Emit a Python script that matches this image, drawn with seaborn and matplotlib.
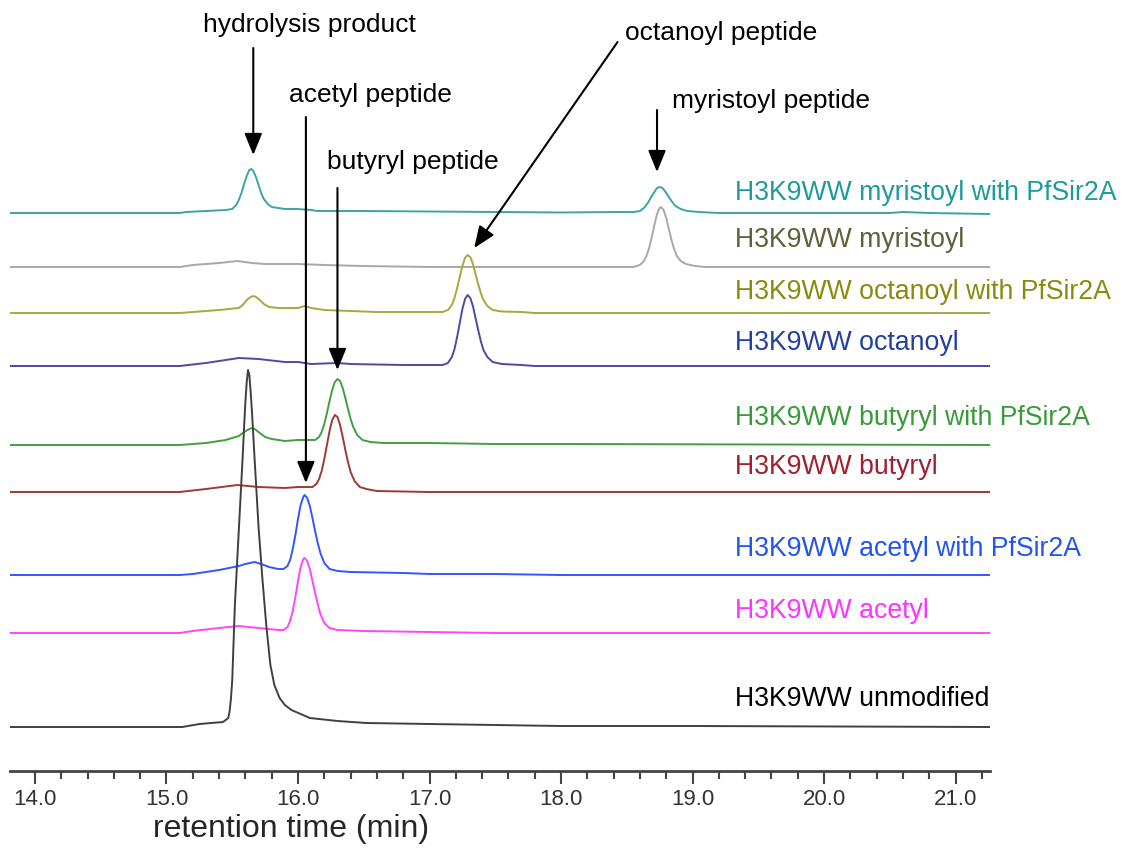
import matplotlib
matplotlib.use("Agg")
import matplotlib.pyplot as plt
import pandas as pd
import seaborn as sns
from matplotlib.ticker import MultipleLocator, FormatStrFormatter

# chromatogram traces: retention time (min) and signal above baseline (a.u.)
names = ["H3K9WW myristoyl with PfSir2A", "H3K9WW myristoyl", "H3K9WW octanoyl with PfSir2A",
         "H3K9WW octanoyl", "H3K9WW butyryl with PfSir2A", "H3K9WW butyryl",
         "H3K9WW acetyl with PfSir2A", "H3K9WW acetyl", "H3K9WW unmodified"]

myr_sir_t = [13.81, 15.10, 15.15, 15.30, 15.45, 15.50, 15.53, 15.55, 15.57, 15.59, 15.61, 15.63, 15.645,
             15.66, 15.68, 15.70, 15.72, 15.74, 15.77, 15.80, 15.85, 15.90, 16.00, 16.10, 16.15, 16.50,
             17.00, 17.50, 18.00, 18.45, 18.55, 18.60, 18.63, 18.66, 18.69, 18.71, 18.73, 18.75, 18.77,
             18.79, 18.81, 18.84, 18.87, 18.91, 18.96, 19.05, 19.20, 20.50, 20.60, 20.80, 21.26]
myr_sir_y = [0, 0, 1, 2, 3, 4, 8, 13, 20, 29, 37, 43, 44,
             42, 36, 28, 20, 14, 9, 6, 5, 4, 4, 3, 2, 2,
             1.5, 1, 0.5, 1, 1, 2, 5, 10, 17, 21, 25, 26, 25,
             22, 18, 12, 7, 4, 2, 1, 0, 0, 1, 0, -1]

myr_t = [13.81, 15.10, 15.20, 15.40, 15.54, 15.65, 15.75, 16.00, 16.20, 16.50, 17.00, 18.55, 18.60,
         18.63, 18.65, 18.67, 18.69, 18.71, 18.73, 18.75, 18.76, 18.78, 18.80, 18.82, 18.84, 18.86,
         18.88, 18.91, 18.95, 19.02, 19.10, 21.26]
myr_y = [0, 0, 2, 4, 6, 4, 3, 3, 2, 1, 0, 0, 2,
         6, 11, 19, 30, 42, 53, 59, 60, 57, 49, 38, 27, 18,
         11, 6, 3, 1, 0, 0]

oct_sir_t = [13.81, 15.10, 15.20, 15.40, 15.55, 15.58, 15.61, 15.64, 15.66, 15.68, 15.71, 15.74, 15.78,
             15.85, 16.00, 16.05, 16.10, 16.20, 16.40, 16.60, 17.00, 17.10, 17.14, 17.17, 17.19, 17.21,
             17.23, 17.25, 17.27, 17.29, 17.31, 17.33, 17.35, 17.37, 17.39, 17.41, 17.44, 17.48, 17.55,
             17.70, 17.80, 21.26]
oct_sir_y = [0, 0, 1, 3, 5, 8, 13, 16, 17, 16, 13, 9, 6,
             5, 5, 7, 5, 3, 2, 1, 1, 1, 3, 8, 15, 25,
             36, 47, 55, 58, 56, 49, 39, 29, 20, 13, 7, 3, 1.5,
             1, 0, 0]

oct_t = [13.81, 15.10, 15.30, 15.55, 15.70, 15.90, 16.00, 16.10, 16.30, 16.40, 16.80, 17.10, 17.14,
         17.17, 17.19, 17.21, 17.23, 17.25, 17.27, 17.29, 17.31, 17.33, 17.35, 17.37, 17.39, 17.41,
         17.44, 17.48, 17.55, 17.70, 17.80, 21.26]
oct_y = [0, 0, 3, 8, 7, 4, 4, 2, 3, 2, 1, 1, 3,
         9, 17, 29, 43, 57, 67, 71, 68, 60, 48, 36, 25, 16,
         9, 4, 2, 1, 0, 0]

but_sir_t = [13.81, 15.10, 15.30, 15.45, 15.50, 15.55, 15.59, 15.63, 15.65, 15.67, 15.71, 15.75, 15.80,
             15.90, 16.00, 16.13, 16.16, 16.18, 16.20, 16.22, 16.24, 16.26, 16.28, 16.30, 16.32, 16.34,
             16.36, 16.38, 16.40, 16.42, 16.45, 16.49, 16.55, 16.65, 17.00, 17.50, 18.00, 19.60, 21.26]
but_sir_y = [0, 0, 2, 5, 7, 9, 13, 16, 17, 16, 12, 8, 6,
             4, 5, 5, 8, 13, 21, 32, 44, 55, 63, 66, 64, 57,
             47, 36, 26, 18, 10, 5, 3, 2, 2, 1, 1, 0.5, 0]

but_t = [13.81, 15.10, 15.30, 15.54, 15.70, 15.90, 16.00, 16.11, 16.14, 16.16, 16.18, 16.20, 16.22,
         16.24, 16.26, 16.28, 16.30, 16.32, 16.34, 16.36, 16.38, 16.40, 16.43, 16.47, 16.52, 16.60,
         17.00, 21.26]
but_y = [0, 0, 3, 7, 5, 4, 5, 5, 8, 13, 21, 33, 47,
         61, 72, 77, 75, 67, 55, 42, 30, 20, 11, 5, 3, 1,
         0, 0]

ace_sir_t = [13.81, 15.10, 15.20, 15.40, 15.55, 15.60, 15.67, 15.72, 15.78, 15.85, 15.89, 15.92, 15.94,
             15.96, 15.98, 16.00, 16.02, 16.04, 16.05, 16.07, 16.09, 16.11, 16.13, 16.15, 16.17, 16.20,
             16.24, 16.30, 16.40, 16.80, 17.00, 17.50, 18.00, 21.26]
ace_sir_y = [0, 0, 1, 5, 9, 11, 13, 11, 8, 6, 6, 9, 15,
             26, 40, 56, 70, 78, 80, 77, 69, 57, 44, 32, 22, 12,
             6, 4, 3, 2, 1, 1, 0, 0]

ace_t = [13.81, 15.10, 15.20, 15.40, 15.55, 15.70, 15.85, 15.89, 15.92, 15.94, 15.96, 15.98, 16.00,
         16.02, 16.04, 16.05, 16.07, 16.09, 16.11, 16.13, 16.15, 16.17, 16.20, 16.24, 16.30, 16.50,
         17.00, 17.50, 21.26]
ace_y = [0, 0, 2, 5, 7, 5, 3, 3, 6, 12, 22, 36, 52,
         66, 74, 75, 72, 64, 52, 40, 29, 19, 10, 5, 3, 2,
         1, 0, 0]

unmod_t = [13.81, 15.12, 15.25, 15.43, 15.47, 15.48, 15.49, 15.50, 15.52, 15.54, 15.56, 15.58, 15.59,
           15.60, 15.61, 15.62, 15.63, 15.64, 15.65, 15.67, 15.70, 15.73, 15.76, 15.79, 15.82, 15.86,
           15.90, 15.95, 16.09, 16.30, 16.52, 17.00, 17.50, 18.00, 19.00, 21.26]
unmod_y = [0, 0, 3, 5, 9, 16, 28, 47, 122, 172, 222, 272, 300,
           325, 345, 357, 352, 335, 315, 268, 200, 147, 100, 62, 42, 29,
           22, 17, 9, 6, 4, 3, 2, 1, 1, 0]

times = [myr_sir_t, myr_t, oct_sir_t, oct_t, but_sir_t, but_t, ace_sir_t, ace_t, unmod_t]
signals = [myr_sir_y, myr_y, oct_sir_y, oct_y, but_sir_y, but_y, ace_sir_y, ace_y, unmod_y]

# vertical stacking of the traces and label placement
offsets = [558, 504, 458, 405, 326, 279, 196, 138, 44]
label_y = [578, 531, 479, 428, 353, 304, 222, 160, 72]
line_colors = ["#3aa5a5", "#a8a8a8", "#a8a840", "#4a4aa8", "#40a040", "#a03838", "#3355ff", "#ff44ff", "#404040"]
text_colors = ["#1f9b9b", "#5f5f3a", "#8a8a10", "#2340a0", "#3a9a3a", "#a02030", "#2255ee", "#ff33ff", "#000000"]

rows = []
for name, t, s, off in zip(names, times, signals, offsets):
    for ti, si in zip(t, s):
        rows.append((name, ti, si + off))
df = pd.DataFrame(rows, columns=["trace", "time", "y"])

sns.set_theme(style="white")
plt.rcParams["font.family"] = ["Liberation Sans", "DejaVu Sans"]

fig = plt.figure(figsize=(11.33, 8.48), dpi=100)
ax = fig.add_axes([10 / 1133, 77 / 848, 980 / 1133, 771 / 848])

sns.lineplot(data=df, x="time", y="y", hue="trace", palette=dict(zip(names, line_colors)),
             estimator=None, sort=False, legend=False, linewidth=1.4, ax=ax)

for name, ly, c in zip(names, label_y, text_colors):
    ax.text(19.32, ly, name, color=c, fontsize=19.2, ha="left", va="center")

# peak annotations: (text, text x, text y, arrow start, arrow tip)
annots = [("hydrolysis product", 16.09, 746, (15.66, 723), (15.66, 616)),
          ("acetyl peptide", 16.55, 676, (16.06, 654), (16.06, 288)),
          ("butyryl peptide", 16.87, 609, (16.30, 583), (16.30, 401)),
          ("octanoyl peptide", 19.22, 738, (18.43, 729), (17.34, 523)),
          ("myristoyl peptide", 19.60, 670, (18.73, 661), (18.73, 599))]
for txt, tx, ty, start, tip in annots:
    ax.text(tx, ty, txt, fontsize=19, ha="center", va="center", color="black")
    ax.annotate("", xy=tip, xytext=start,
                arrowprops=dict(arrowstyle="-|>,head_length=1.1,head_width=0.45", color="black",
                                lw=1.5, shrinkA=0, shrinkB=0))

ax.set_xlim(13.81, 21.262)
ax.set_ylim(0, 771)
sns.despine(ax=ax, left=True, top=True, right=True)
ax.spines["bottom"].set_linewidth(2)
ax.spines["bottom"].set_color("#444444")
ax.set_yticks([])
ax.xaxis.set_major_locator(MultipleLocator(1.0))
ax.xaxis.set_minor_locator(MultipleLocator(0.2))
ax.xaxis.set_major_formatter(FormatStrFormatter("%.1f"))
ax.tick_params(axis="x", which="major", direction="out", length=9, width=1.5, color="#444444",
               labelsize=16, labelcolor="#333333", pad=4, bottom=True)
ax.tick_params(axis="x", which="minor", direction="out", length=6, width=1.5, color="#444444", bottom=True)
ax.set_xlabel("retention time (min)", fontsize=23, labelpad=3)
ax.set_ylabel("")
ax.xaxis.label.set_position(((291 - 10) / 980, 0))
ax.set_facecolor("white")

fig.savefig("out.png", dpi=100, facecolor="white")
